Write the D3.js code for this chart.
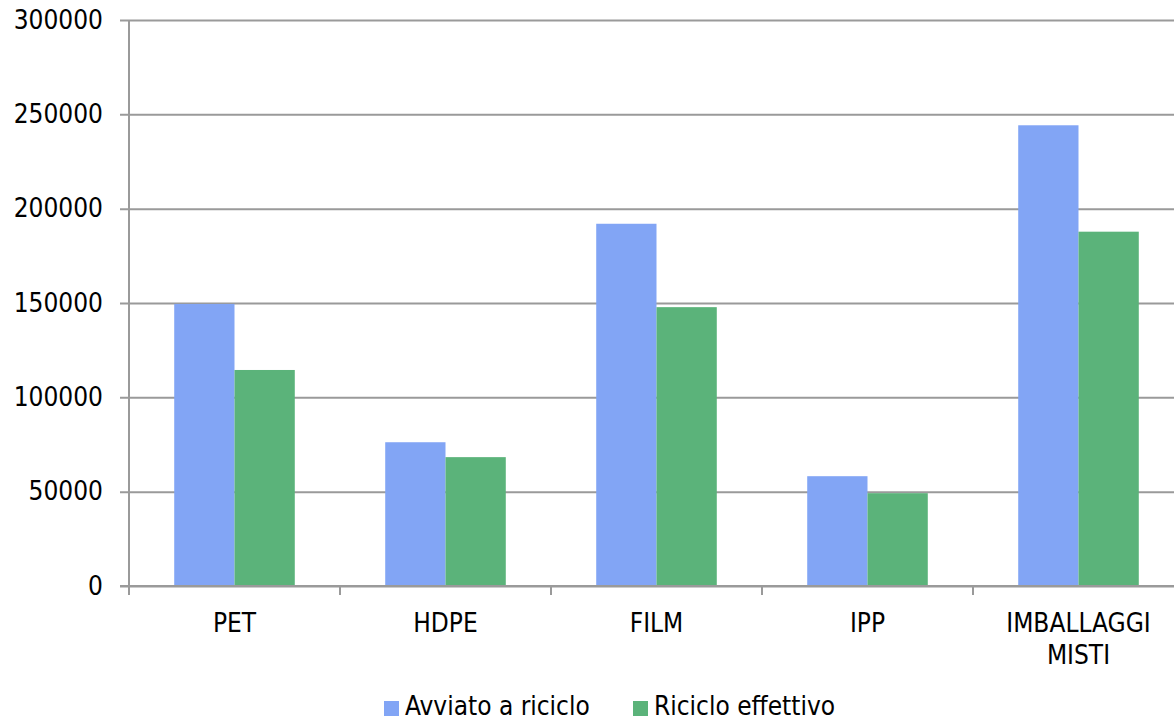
<!DOCTYPE html>
<html>
<head>
<meta charset="utf-8">
<script src="https://cdn.jsdelivr.net/npm/d3@7"></script>
<style>
  body { margin: 0; background: #fff; }
  svg { display: block; font-family: "DejaVu Sans Condensed", "DejaVu Sans", sans-serif; }
</style>
</head>
<body>
<div id="chart"></div>
<script>
// data
let categories = ['PET', 'HDPE', 'FILM', 'IPP', 'IMBALLAGGI MISTI'];
let seriesNames = ['Avviato a riciclo', 'Riciclo effettivo'];
let avviato = [149500, 76200, 192000, 58200, 244200];
let effettivo = [114500, 68300, 147800, 49200, 187800];
let yTicks = [0, 50000, 100000, 150000, 200000, 250000, 300000];

let colors = ['#82a5f5', '#5bb37a'];

let width = 1174, height = 721;
let margin = { top: 20, left: 129, bottom: 135, right: -10 }; // plot runs a bit past the right edge

let svg = d3.select('#chart').append('svg')
  .attr('width', width)
  .attr('height', height);

let data = categories.map((c, i) => ({ cat: c, values: [avviato[i], effettivo[i]] }));

let x0 = d3.scaleBand()
  .domain(categories)
  .range([margin.left, width - margin.right])
  .padding(0);

let x1 = d3.scaleBand()
  .domain(seriesNames)
  .range([0, x0.bandwidth()])
  .paddingInner(0)
  .paddingOuter(0.75);

let y = d3.scaleLinear()
  .domain([0, 300000])
  .range([height - margin.bottom, margin.top]);

// gridlines + y labels
let yAxis = svg.append('g')
  .attr('transform', `translate(${margin.left},0)`)
  .call(d3.axisLeft(y).tickValues(yTicks).tickFormat(d3.format('d'))
    .tickSize(-(width - margin.left)).tickSizeOuter(0).tickPadding(26));
yAxis.select('.domain').remove();
yAxis.selectAll('.tick line')
  .attr('x1', -9)
  .attr('stroke', '#9a9a9a')
  .attr('stroke-width', 2);
yAxis.selectAll('.tick text')
  .attr('font-size', 26)
  .attr('fill', '#000')
  .attr('font-family', '"DejaVu Sans Condensed", "DejaVu Sans", sans-serif');

// bars
let groups = svg.selectAll('.group')
  .data(data)
  .enter().append('g')
  .attr('class', 'group')
  .attr('transform', d => `translate(${x0(d.cat)},0)`);

groups.selectAll('rect')
  .data(d => d.values.map((v, i) => ({ key: seriesNames[i], value: v, i: i })))
  .enter().append('rect')
  .attr('x', d => x1(d.key))
  .attr('y', d => y(d.value))
  .attr('width', x1.bandwidth())
  .attr('height', d => y(0) - y(d.value))
  .attr('fill', d => colors[d.i]);

// vertical axis line
svg.append('line')
  .attr('x1', margin.left).attr('x2', margin.left)
  .attr('y1', y(300000)).attr('y2', y(0) + 9)
  .attr('stroke', '#9a9a9a')
  .attr('stroke-width', 2);

// x axis line and category boundary ticks
svg.append('line')
  .attr('x1', margin.left - 9).attr('x2', width)
  .attr('y1', y(0)).attr('y2', y(0))
  .attr('stroke', '#9a9a9a')
  .attr('stroke-width', 2);

let bounds = categories.map(c => x0(c)).concat([x0.range()[1]]);
svg.selectAll('.xtick')
  .data(bounds.slice(1))
  .enter().append('line')
  .attr('class', 'xtick')
  .attr('x1', d => d).attr('x2', d => d)
  .attr('y1', y(0)).attr('y2', y(0) + 9)
  .attr('stroke', '#9a9a9a')
  .attr('stroke-width', 2);

// category labels, wrapped on space when too long
let catLabels = svg.selectAll('.catlabel')
  .data(categories)
  .enter().append('text')
  .attr('class', 'catlabel')
  .attr('x', d => x0(d) + x0.bandwidth() / 2)
  .attr('y', y(0) + 46)
  .attr('text-anchor', 'middle')
  .attr('font-size', 26)
  .attr('fill', '#000');

catLabels.each(function(d) {
  let words = d.length > 12 ? d.split(' ') : [d];
  let t = d3.select(this);
  words.forEach((w, i) => {
    t.append('tspan')
      .attr('x', x0(d) + x0.bandwidth() / 2)
      .attr('dy', i === 0 ? 0 : 32)
      .text(w);
  });
});

// legend
let legendX = [384, 633];
let legend = svg.selectAll('.legend')
  .data(seriesNames)
  .enter().append('g')
  .attr('class', 'legend')
  .attr('transform', (d, i) => `translate(${legendX[i]},701)`);

legend.append('rect')
  .attr('width', 15)
  .attr('height', 15)
  .attr('fill', (d, i) => colors[i]);

legend.append('text')
  .attr('x', 21)
  .attr('y', 14)
  .attr('font-size', 26)
  .attr('fill', '#000')
  .text(d => d);
</script>
</body>
</html>
